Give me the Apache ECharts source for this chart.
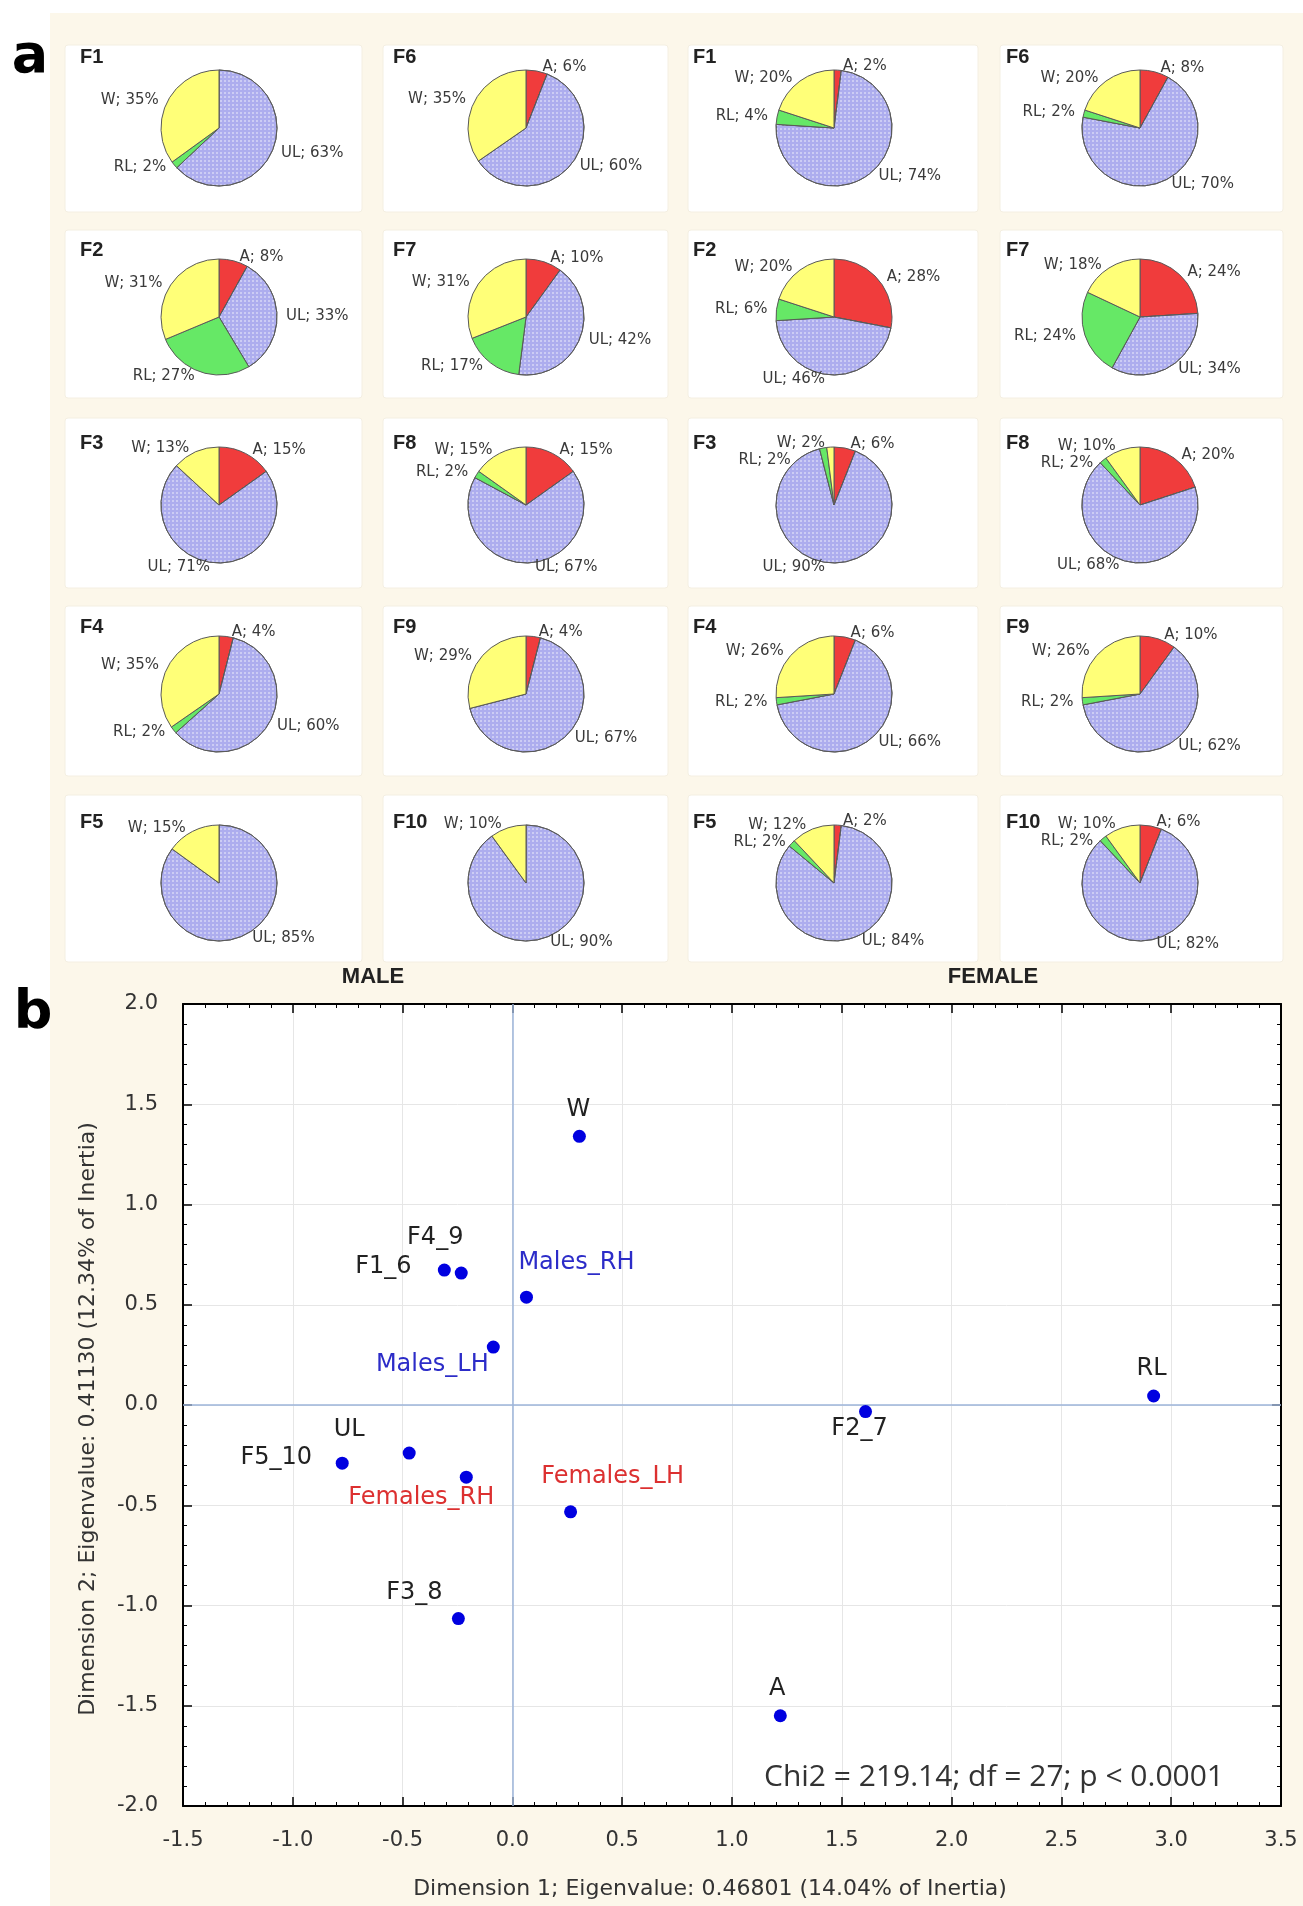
<!DOCTYPE html>
<html>
<head>
<meta charset="UTF-8">
<title>Face sectors: pies and correspondence analysis</title>
<script src="https://cdn.jsdelivr.net/npm/echarts@6/dist/echarts.min.js"></script>
<style>
  html, body { margin: 0; padding: 0; background: #fff; }
  #chart { width: 1303px; height: 1906px; }
</style>
</head>
<body>
<div id="chart"></div>
<script>
// ---- data ----
var faces = ['F1', 'F2', 'F3', 'F4', 'F5', 'F6', 'F7', 'F8', 'F9', 'F10'];
var sectors = ['A', 'UL', 'RL', 'W'];

// percentages per face, in sector order A, UL, RL, W
var maleA  = [0, 8, 15, 4, 0, 6, 10, 15, 4, 0];
var maleUL = [63, 33, 71, 60, 85, 60, 42, 67, 67, 90];
var maleRL = [2, 27, 0, 2, 0, 0, 17, 2, 0, 0];
var maleW  = [35, 31, 13, 35, 15, 35, 31, 15, 29, 10];

var femaleA  = [2, 28, 6, 6, 2, 8, 24, 20, 10, 6];
var femaleUL = [74, 46, 90, 66, 84, 70, 34, 68, 62, 82];
var femaleRL = [4, 6, 2, 2, 2, 2, 24, 2, 2, 2];
var femaleW  = [20, 20, 2, 26, 12, 20, 18, 10, 26, 10];

// correspondence analysis coordinates
var pointNames = ['W', 'F1_6', 'F4_9', 'Males_RH', 'Males_LH', 'RL', 'F2_7',
                  'UL', 'F5_10', 'Females_RH', 'Females_LH', 'F3_8', 'A'];
var dim1 = [0.305, -0.31, -0.233, 0.064, -0.087, 2.92, 1.608, -0.47, -0.775, -0.21, 0.265, -0.246, 1.22];
var dim2 = [1.34, 0.673, 0.658, 0.538, 0.289, 0.045, -0.033, -0.24, -0.29, -0.36, -0.533, -1.065, -1.55];

var xTicks = ['-1.5', '-1.0', '-0.5', '0.0', '0.5', '1.0', '1.5', '2.0', '2.5', '3.0', '3.5'];
var yTicks = ['-2.0', '-1.5', '-1.0', '-0.5', '0.0', '0.5', '1.0', '1.5', '2.0'];

var chiText = 'Chi2 = 219.14; df = 27; p < 0.0001';

// ---- layout / style ----
var pieColX = [219, 526, 834, 1140];
var pieRowY = [128, 317, 505, 694, 883];
var titleColX = [80, 393, 693, 1006];
var titleRowY = [57, 250, 443, 627, 822];
var cellColX = [[65, 362], [383, 668], [688, 978], [1000, 1283]];
var cellRowY = [[45, 212], [230, 398], [418, 588], [606, 776], [795, 962]];

var sectorColor = { A: '#f03c3c', UL: '#adadee', RL: '#66e866', W: '#ffff78' };
var ulDecal = {
  symbol: 'circle', symbolSize: 1,
  dashArrayX: [[1.5, 1.5]], dashArrayY: [1.5, 1.5],
  rotation: 0, color: 'rgba(255,255,255,0.5)'
};

// label offsets from the point centre (px)
var labelShift = {
  W: [-1, -27], RL: [-2, -27], A: [-3, -27],
  F1_6: [-61, -3], F4_9: [-26, -35],
  Males_RH: [50, -34], Males_LH: [-61, 18],
  F2_7: [-6, 17], UL: [-60, -23], F5_10: [-66, -5],
  Females_RH: [-45, 21], Females_LH: [42, -35], F3_8: [-44, -26]
};

var chart = echarts.init(document.getElementById('chart'));

var series = [];
var graphics = [];

// backgrounds
graphics.push({ type: 'rect', z: -10, shape: { x: 50, y: 13, width: 1253, height: 1893 }, style: { fill: '#fcf7ea' } });
cellColX.forEach(function (cx) {
  cellRowY.forEach(function (cy) {
    graphics.push({ type: 'rect', z: -9, shape: { x: cx[0], y: cy[0], width: cx[1] - cx[0], height: cy[1] - cy[0], r: 3 },
      style: { fill: '#ffffff', stroke: '#f4efe2', lineWidth: 1 } });
  });
});

var groups = [
  [maleA, maleUL, maleRL, maleW],
  [femaleA, femaleUL, femaleRL, femaleW]
];

groups.forEach(function (vals, gi) {
  faces.forEach(function (face, i) {
    var col = gi * 2 + (i < 5 ? 0 : 1);
    var row = i % 5;
    var data = [];
    sectors.forEach(function (s, k) {
      var v = vals[k][i];
      if (v > 0) {
        var st = { color: sectorColor[s] };
        if (s === 'UL') st.decal = ulDecal;
        data.push({ name: s, value: v, itemStyle: st });
      }
    });
    series.push({
      type: 'pie',
      silent: true,
      radius: 58,
      center: [pieColX[col], pieRowY[row]],
      startAngle: 90,
      clockwise: true,
      avoidLabelOverlap: true,
      itemStyle: { borderColor: '#5a5a5a', borderWidth: 1 },
      label: {
        show: true, position: 'outside', formatter: '{b}; {c}%',
        fontFamily: 'DejaVu Sans', fontSize: 15, color: '#3a3a3a'
      },
      labelLine: { show: false, length: 4, length2: 0 },
      emphasis: { disabled: true },
      data: data
    });
    graphics.push({
      type: 'text', z: 5,
      style: {
        text: face, x: titleColX[col], y: titleRowY[row],
        textAlign: 'left', textVerticalAlign: 'middle',
        fontFamily: 'Liberation Sans', fontWeight: 'bold', fontSize: 20, fill: '#222'
      }
    });
  });
});

// panel letters and group headers
graphics.push({ type: 'text', style: { text: 'a', x: 30, y: 58, textAlign: 'center', textVerticalAlign: 'middle',
  fontFamily: 'DejaVu Sans', fontWeight: 'bold', fontSize: 54, fill: '#000' } });
graphics.push({ type: 'text', style: { text: 'b', x: 33, y: 1014, textAlign: 'center', textVerticalAlign: 'middle',
  fontFamily: 'DejaVu Sans', fontWeight: 'bold', fontSize: 54, fill: '#000' } });
graphics.push({ type: 'text', style: { text: 'MALE', x: 373, y: 977, textAlign: 'center', textVerticalAlign: 'middle',
  fontFamily: 'Liberation Sans', fontWeight: 'bold', fontSize: 22, fill: '#222' } });
graphics.push({ type: 'text', style: { text: 'FEMALE', x: 993, y: 977, textAlign: 'center', textVerticalAlign: 'middle',
  fontFamily: 'Liberation Sans', fontWeight: 'bold', fontSize: 22, fill: '#222' } });
graphics.push({ type: 'text', z: 10, style: { text: chiText, x: 994, y: 1777, textAlign: 'center', textVerticalAlign: 'middle',
  fontFamily: 'Open Sans', fontSize: 30, fill: '#333' } });

// scatter points
var labelColor = function (n) {
  if (n.indexOf('Males') === 0) return '#2c2cc8';
  if (n.indexOf('Females') === 0) return '#dc3030';
  return '#222';
};
var points = pointNames.map(function (n, i) {
  return {
    name: n,
    value: [dim1[i], dim2[i]],
    label: { offset: labelShift[n], color: labelColor(n) }
  };
});

series.push({
  type: 'scatter',
  xAxisIndex: 0, yAxisIndex: 0,
  symbol: 'circle', symbolSize: 13,
  itemStyle: { color: '#0000e0', opacity: 1 },
  label: {
    show: true, position: 'inside', formatter: '{b}',
    fontFamily: 'DejaVu Sans', fontSize: 24
  },
  markLine: {
    silent: true, symbol: 'none', label: { show: false },
    lineStyle: { color: '#9cb4da', width: 1.5, type: 'solid' },
    data: [{ xAxis: 0 }, { yAxis: 0 }]
  },
  z: 5,
  data: points
});

function tickFmt(list, min, step) {
  return function (v) {
    var idx = Math.round((v - min) / step);
    return list[idx] !== undefined ? list[idx] : '';
  };
}

var baseAxis = {
  type: 'value',
  axisLine: { show: true, onZero: false, lineStyle: { color: '#000', width: 2 } },
  axisTick: { show: true, inside: true, length: 9, lineStyle: { color: '#000', width: 1.5 } },
  minorTick: { show: true, splitNumber: 5, length: 4, lineStyle: { color: '#000', width: 1 } },
  minorSplitLine: { show: false }
};

function axis(extra) {
  return Object.assign({}, JSON.parse(JSON.stringify(baseAxis)), extra);
}

var option = {
  animation: false,
  backgroundColor: '#ffffff',
  grid: {
    left: 183, right: 22, top: 1004, bottom: 100,
    show: true, backgroundColor: '#ffffff', borderWidth: 0,
    outerBoundsMode: 'none'
  },
  xAxis: [
    axis({
      position: 'bottom', min: -1.5, max: 3.5, interval: 0.5,
      splitLine: { show: true, lineStyle: { color: '#e6e6e6', width: 1 } },
      axisLabel: { margin: 24, fontFamily: 'DejaVu Sans', fontSize: 21, color: '#333',
        formatter: tickFmt(xTicks, -1.5, 0.5) },
      name: 'Dimension 1; Eigenvalue: 0.46801 (14.04% of Inertia)',
      nameLocation: 'middle', nameGap: 72,
      nameTextStyle: { fontFamily: 'DejaVu Sans', fontSize: 22, color: '#333', padding: [0, 44, 0, 0] }
    }),
    axis({
      position: 'top', min: -1.5, max: 3.5, interval: 0.5,
      splitLine: { show: false }, axisLabel: { show: false }
    })
  ],
  yAxis: [
    axis({
      position: 'left', min: -2, max: 2, interval: 0.5,
      splitLine: { show: true, lineStyle: { color: '#e6e6e6', width: 1 } },
      axisLabel: { margin: 25, fontFamily: 'DejaVu Sans', fontSize: 21, color: '#333',
        formatter: tickFmt(yTicks, -2, 0.5) },
      name: 'Dimension 2; Eigenvalue: 0.41130 (12.34% of Inertia)',
      nameLocation: 'middle', nameGap: 84, nameRotate: 90,
      nameTextStyle: { fontFamily: 'DejaVu Sans', fontSize: 22, color: '#333', padding: [0, 28, 0, 0] }
    }),
    axis({
      position: 'right', min: -2, max: 2, interval: 0.5,
      splitLine: { show: false }, axisLabel: { show: false }
    })
  ],
  graphic: graphics,
  series: series
};

chart.setOption(option);
</script>
</body>
</html>
